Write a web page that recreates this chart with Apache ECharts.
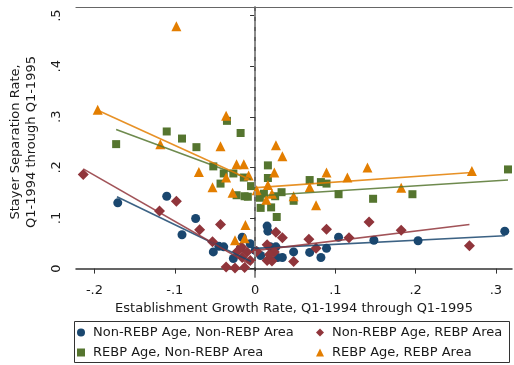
<!DOCTYPE html>
<html>
<head>
<meta charset="utf-8">
<script src="https://cdn.jsdelivr.net/npm/echarts@6/dist/echarts.min.js"></script>
<style>
  html, body { margin: 0; padding: 0; background: #fff; }
  #chart { width: 514px; height: 365px; }
</style>
</head>
<body>
<div id="chart"></div>
<script>
// tick values shown on the axes
const xTicks = [-0.2, -0.1, 0, 0.1, 0.2, 0.3]
const yTicks = [0, 0.1, 0.2, 0.3, 0.4, 0.5]

// series names
const names = [
  'Non-REBP Age, Non-REBP Area',
  'Non-REBP Age, REBP Area',
  'REBP Age, Non-REBP Area',
  'REBP Age, REBP Area'
]

// [growth rate, separation rate]
const nonAgeNonArea = [
  [-0.171, 0.130], [-0.110, 0.143], [-0.091, 0.067], [-0.074, 0.099],
  [-0.052, 0.033], [-0.045, 0.044], [-0.039, 0.043], [-0.027, 0.020],
  [-0.016, 0.062], [-0.018, 0.041], [-0.006, 0.049],
  [0.000, 0.036], [0.007, 0.026], [0.015, 0.084], [0.016, 0.074],
  [0.019, 0.043], [0.026, 0.043], [0.028, 0.022], [0.034, 0.022],
  [0.048, 0.033], [0.068, 0.032], [0.082, 0.022], [0.089, 0.040],
  [0.104, 0.062], [0.148, 0.056], [0.203, 0.055], [0.311, 0.074]
]
const nonAgeArea = [
  [-0.214, 0.186], [-0.119, 0.114], [-0.098, 0.133], [-0.069, 0.077],
  [-0.043, 0.087], [-0.053, 0.053], [-0.036, 0.003], [-0.025, 0.001],
  [-0.013, 0.002], [-0.022, 0.034], [-0.017, 0.043], [-0.010, 0.033],
  [-0.016, 0.022], [-0.006, 0.016],
  [0.002, 0.034], [0.015, 0.047], [0.015, 0.016], [0.021, 0.015],
  [0.024, 0.033], [0.018, 0.028], [0.026, 0.072], [0.034, 0.061],
  [0.048, 0.014], [0.067, 0.058], [0.076, 0.040], [0.089, 0.078],
  [0.117, 0.061], [0.142, 0.092], [0.182, 0.076], [0.267, 0.045]
]
const ageNonArea = [
  [-0.173, 0.246], [-0.110, 0.271], [-0.091, 0.257], [-0.073, 0.240],
  [-0.052, 0.202], [-0.043, 0.168], [-0.039, 0.188], [-0.035, 0.292],
  [-0.018, 0.268], [-0.027, 0.188], [-0.023, 0.145], [-0.014, 0.180],
  [-0.013, 0.143], [-0.009, 0.142], [-0.005, 0.163],
  [0.006, 0.140], [0.007, 0.120], [0.011, 0.148], [0.016, 0.204],
  [0.016, 0.179], [0.020, 0.121], [0.025, 0.143], [0.027, 0.102],
  [0.033, 0.151], [0.048, 0.134], [0.068, 0.175], [0.082, 0.171],
  [0.089, 0.168], [0.104, 0.147], [0.147, 0.138], [0.196, 0.147],
  [0.315, 0.196]
]
const ageArea = [
  [-0.196, 0.314], [-0.098, 0.479], [-0.118, 0.246], [-0.070, 0.191],
  [-0.053, 0.161], [-0.043, 0.242], [-0.036, 0.302], [-0.036, 0.180],
  [-0.028, 0.150], [-0.023, 0.206], [-0.014, 0.206], [-0.008, 0.184],
  [-0.012, 0.086], [-0.025, 0.056], [-0.013, 0.060],
  [0.002, 0.155], [0.014, 0.136], [0.016, 0.165], [0.021, 0.148],
  [0.024, 0.190], [0.026, 0.244], [0.034, 0.222], [0.048, 0.143],
  [0.068, 0.161], [0.076, 0.125], [0.089, 0.190], [0.115, 0.180],
  [0.140, 0.200], [0.182, 0.160], [0.270, 0.193]
]

// fitted lines, separate for shrinking and growing establishments
const fitNonAgeNonArea = [[[-0.172, 0.142], [-0.005, 0.014]], [[0.000, 0.040], [0.311, 0.065]]]
const fitNonAgeArea = [[[-0.214, 0.197], [-0.006, 0.008]], [[0.002, 0.036], [0.267, 0.087]]]
const fitAgeNonArea = [[[-0.173, 0.275], [-0.005, 0.176]], [[0.006, 0.144], [0.315, 0.175]]]
const fitAgeArea = [[[-0.196, 0.313], [-0.008, 0.177]], [[0.002, 0.160], [0.270, 0.190]]]

const colors = ['#1a476f', '#90353b', '#55752f', '#e37e00']
const symbols = ['circle', 'diamond', 'rect', 'triangle']
const sizes = [9, 11, 8, 10]
const points = [nonAgeNonArea, nonAgeArea, ageNonArea, ageArea]
const fits = [fitNonAgeNonArea, fitNonAgeArea, fitAgeNonArea, fitAgeArea]

const font = 'DejaVu Sans'
const fmt = v => {
  if (Math.abs(v) < 1e-9) return '0'
  return (v < 0 ? '-' : '') + String(Math.abs(+v.toFixed(2))).replace(/^0/, '')
}

const series = []
points.forEach((d, i) => {
  const s = {
    name: names[i],
    type: 'scatter',
    symbol: symbols[i],
    symbolSize: sizes[i],
    itemStyle: { color: colors[i], opacity: 1 },
    data: d,
    z: 3
  }
  if (i === 0) {
    s.markLine = {
      silent: true,
      symbol: 'none',
      label: { show: false },
      lineStyle: { color: '#999', type: [6, 4], width: 1.5 },
      data: [{ xAxis: 0 }]
    }
  }
  series.push(s)
})
fits.forEach((segs, i) => {
  segs.forEach(seg => {
    series.push({
      name: 'fit' + i,
      type: 'line',
      symbol: 'none',
      data: seg,
      lineStyle: { color: colors[i], width: 1.6, opacity: 0.85 },
      z: 4,
      silent: true
    })
  })
})

const legendPos = [[77, 326], [316, 326], [77, 346], [316, 346]]
const legends = names.map((n, i) => ({
  data: [n],
  left: legendPos[i][0],
  top: legendPos[i][1],
  padding: 0,
  itemWidth: 8,
  itemHeight: 8,
  selectedMode: false,
  textStyle: { fontFamily: font, fontSize: 13, color: '#1a1a1a', padding: [0, 0, 0, 3] }
}))

const chart = echarts.init(document.getElementById('chart'), null, { renderer: 'canvas' })
chart.setOption({
  backgroundColor: '#fff',
  animation: false,
  textStyle: { fontFamily: font },
  grid: { left: 70, right: 2, top: 7, bottom: 88 },
  legend: legends,
  graphic: [{
    type: 'rect',
    shape: { x: 74.5, y: 321.5, width: 435, height: 41 },
    style: { fill: 'none', stroke: '#333', lineWidth: 1 },
    silent: true
  }],
  xAxis: [{
    type: 'value',
    min: -0.223,
    max: 0.32,
    name: 'Establishment Growth Rate, Q1-1994 through Q1-1995',
    nameLocation: 'middle',
    nameGap: 23,
    nameTextStyle: { fontFamily: font, fontSize: 13, color: '#1a1a1a' },
    splitLine: { show: false },
    axisLine: { lineStyle: { color: '#333', width: 1.5 } },
    axisTick: { show: true, length: 5, customValues: xTicks, lineStyle: { color: '#333' } },
    axisLabel: {
      customValues: xTicks,
      formatter: fmt,
      margin: 7,
      fontSize: 13,
      color: '#1a1a1a'
    }
  }, {
    type: 'value',
    position: 'top',
    min: -0.223,
    max: 0.32,
    splitLine: { show: false },
    axisLine: { show: true, onZero: false, lineStyle: { color: '#666', width: 1.2 } },
    axisTick: { show: false },
    axisLabel: { show: false }
  }],
  yAxis: {
    type: 'value',
    min: -0.0166,
    max: 0.517,
    name: 'Stayer Separation Rate,\nQ1-1994 through Q1-1995',
    nameLocation: 'middle',
    nameGap: 36,
    nameTextStyle: { fontFamily: font, fontSize: 13, color: '#1a1a1a', lineHeight: 16 },
    splitLine: { show: false },
    axisLine: { show: true, lineStyle: { color: '#333', width: 1.5 } },
    axisTick: { show: true, length: 5, customValues: yTicks, lineStyle: { color: '#333' } },
    axisLabel: {
      customValues: yTicks,
      formatter: fmt,
      rotate: 90,
      margin: 13,
      fontSize: 13,
      color: '#1a1a1a'
    }
  },
  series: series
})
</script>
</body>
</html>
